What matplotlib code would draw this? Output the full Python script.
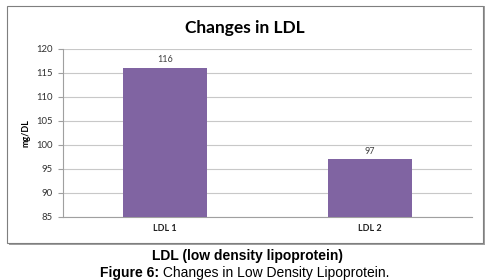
import matplotlib
matplotlib.use("Agg")
import matplotlib.pyplot as plt
from matplotlib.patches import Rectangle

categories = ["LDL 1", "LDL 2"]
values = [116, 97]
yticks = [85, 90, 95, 100, 105, 110, 115, 120]

W, H = 491, 280
fig = plt.figure(figsize=(W / 100, H / 100), dpi=100)
fig.patch.set_facecolor("white")

# outer chart box with shadow
fig.patches.append(Rectangle((9 / W, 1 - 245 / H), 476 / W, 239 / H, transform=fig.transFigure,
                             facecolor="#a0a0a0", edgecolor="none", zorder=0))
fig.patches.append(Rectangle((7 / W, 1 - 243 / H), 476 / W, 237 / H, transform=fig.transFigure,
                             facecolor="white", edgecolor="#7f7f7f", linewidth=0.8, zorder=1))

ax = fig.add_axes([63 / W, 1 - 217 / H, (472 - 63) / W, (217 - 49) / H])
ax.set_zorder(2)
ax.patch.set_alpha(0)
x = range(len(categories))
ax.bar(x, [v - yticks[0] for v in values], bottom=yticks[0], width=0.41, color="#8064A2", zorder=3)
for xi, v in zip(x, values):
    ax.text(xi, v + 0.8, str(v), ha="center", va="bottom", fontsize=6.5, family="Lato", color="#404040")
ax.set_xlim(-0.5, len(categories) - 0.5)
ax.set_ylim(yticks[0], yticks[-1])
ax.set_yticks(yticks)
ax.set_xticks(list(x))
ax.set_xticklabels(categories, fontsize=6.5, family="Lato", fontweight="bold", color="#202020")
ax.set_yticklabels([str(t) for t in yticks], fontsize=6.8, family="Lato", color="#303030")
ax.yaxis.grid(True, color="#c8c8c8", linewidth=0.8, zorder=0)
for s in ["top", "right"]:
    ax.spines[s].set_visible(False)
ax.spines["left"].set_color("#a0a0a0")
ax.spines["bottom"].set_color("#a0a0a0")
ax.tick_params(axis="y", length=3.6, color="#a0a0a0", pad=3.6)
ax.tick_params(axis="x", length=0, pad=5)
ax.set_ylabel("mg/DL", fontsize=6.5, family="Lato", fontweight="bold", labelpad=4)

fig.text(245 / W, 1 - 28 / H, "Changes in LDL", ha="center", va="center",
         fontsize=12.5, family="Lato", fontweight="bold", color="#000000")

fig.text(248 / W, 1 - 256 / H, "LDL (low density lipoprotein)", ha="center", va="center",
         fontsize=10, family="Liberation Sans", fontweight="bold")
t1 = fig.text(0, 0, "Figure 6:", fontsize=10, family="Liberation Sans", fontweight="bold")
t2 = fig.text(0, 0, " Changes in Low Density Lipoprotein.", fontsize=10, family="Liberation Sans")
fig.canvas.draw()
r = fig.canvas.get_renderer()
w1 = t1.get_window_extent(r).width
w2 = t2.get_window_extent(r).width
x0 = 100
t1.set_position((x0 / W, 1 - 273 / H)); t1.set_va("center")
t2.set_position(((x0 + w1) / W, 1 - 273 / H)); t2.set_va("center")

fig.savefig("out.png", dpi=100)
